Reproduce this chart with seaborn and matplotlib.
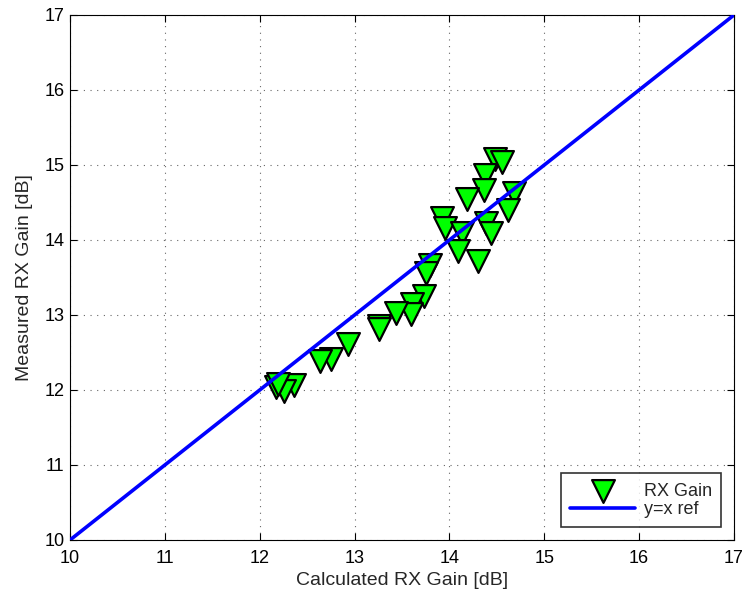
import matplotlib
matplotlib.use("Agg")
import matplotlib.pyplot as plt
import seaborn as sns
import pandas as pd
import numpy as np

calc_gain = [14.48, 14.55, 14.38, 14.36, 14.18, 14.68, 14.62, 13.92, 13.95, 14.39,
             14.44, 14.13, 14.09, 14.30, 13.80, 13.75, 13.73, 13.61, 13.60, 13.44,
             13.26, 13.26, 12.93, 12.75, 12.64, 12.36, 12.26, 12.17, 12.19]
meas_gain = [15.08, 15.04, 14.87, 14.67, 14.54, 14.62, 14.40, 14.29, 14.16, 14.23,
             14.09, 14.09, 13.85, 13.72, 13.67, 13.56, 13.25, 13.14, 13.01, 13.02,
             12.85, 12.81, 12.61, 12.41, 12.39, 12.06, 11.99, 12.04, 12.08]
ref_x = [10, 17]
ref_y = [10, 17]

sns.set_style("white")
plt.rcParams['font.family'] = ['Liberation Sans', 'DejaVu Sans']

fig = plt.figure(figsize=(7.48, 5.99), dpi=100)
ax = fig.add_axes([0.0936, 0.0985, 0.8877, 0.8765])

df = pd.DataFrame({"calc": calc_gain, "meas": meas_gain})
ref = pd.DataFrame({"x": ref_x, "y": ref_y})

sns.scatterplot(data=df, x="calc", y="meas", marker="v", s=270, color="#00ff00",
                edgecolor="black", linewidth=1.6, ax=ax, label="RX Gain", zorder=3)
sns.lineplot(data=ref, x="x", y="y", color="#0000ff", linewidth=2.6, ax=ax,
             label="y=x ref", zorder=4)

ax.set_xlim(10, 17)
ax.set_ylim(10, 17)
ax.set_xticks(range(10, 18))
ax.set_yticks(range(10, 18))
ax.grid(True, linestyle=(0, (1, 5)), color="black", linewidth=0.8, alpha=0.6)
ax.tick_params(direction="in", length=5, labelsize=13, top=True, right=True,
               bottom=True, left=True, colors="black")
ax.tick_params(axis="x", pad=7)
ax.tick_params(axis="y", pad=4)
for sp in ax.spines.values():
    sp.set_color("black")
    sp.set_linewidth(0.8)
ax.set_xlabel("Calculated RX Gain [dB]", fontsize=14, labelpad=4)
ax.set_ylabel("Measured RX Gain [dB]", fontsize=14, labelpad=8)

leg = ax.legend(loc="lower right", fontsize=13, frameon=True, fancybox=False,
                edgecolor="black", borderaxespad=0.7, handlelength=3.6,
                handletextpad=0.5, labelspacing=0.1, borderpad=0.5)
leg.get_frame().set_linewidth(1.2)

fig.savefig("out.png", dpi=100)
